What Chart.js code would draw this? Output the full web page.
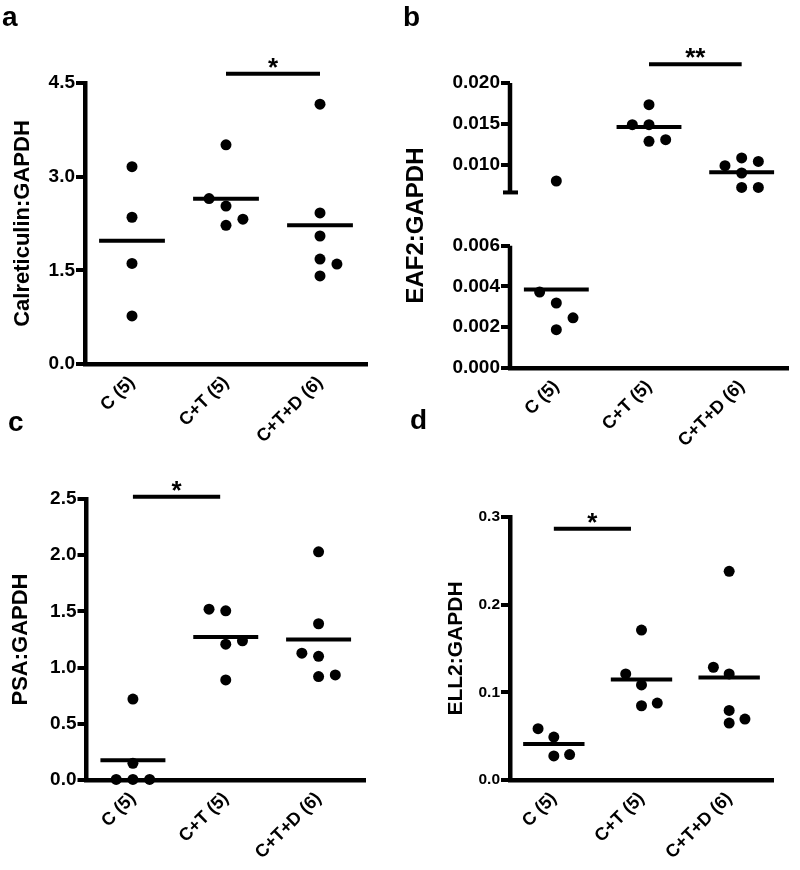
<!DOCTYPE html>
<html>
<head>
<meta charset="utf-8">
<script src="https://cdn.jsdelivr.net/npm/chart.js@4/dist/chart.umd.min.js"></script>
<style>
  body { margin: 0; background: #fff; }
  #fig { position: relative; width: 800px; height: 870px; overflow: hidden; background: #fff; }
  canvas { position: absolute; }
  .tag { position: absolute; font: bold 28px "Liberation Sans", Arial, sans-serif; line-height: 28px; color: #000; z-index: 2; }
</style>
</head>
<body>
<div id="fig">
  <canvas id="chartA" width="400" height="470" style="left:0;top:0"></canvas>
  <canvas id="chartB" width="400" height="470" style="left:400px;top:0"></canvas>
  <canvas id="chartC" width="400" height="435" style="left:0;top:435px"></canvas>
  <canvas id="chartD" width="400" height="435" style="left:400px;top:435px"></canvas>
  <div class="tag" style="left:2px;top:3px">a</div>
  <div class="tag" style="left:403px;top:3px">b</div>
  <div class="tag" style="left:8px;top:408px">c</div>
  <div class="tag" style="left:410px;top:406px">d</div>
</div>
<script>
// groups on the x axis
const groups = ['C (5)', 'C+T (5)', 'C+T+D (6)'];

// a - Calreticulin:GAPDH
const calreticulinC = [3.16, 2.35, 1.61, 0.77];
const calreticulinCT = [3.51, 2.65, 2.53, 2.32, 2.22];
const calreticulinCTD = [4.16, 2.42, 2.05, 1.68, 1.60, 1.41];
const calreticulinTicks = [0, 1.5, 3.0, 4.5];
const calreticulinSig = [1, 2, 4.65, '*'];

// b - EAF2:GAPDH (broken axis)
const eaf2C = [0.0080, 0.00373, 0.00319, 0.00246, 0.00188];
const eaf2CT = [0.01735, 0.0149, 0.0149, 0.01306, 0.01286];
const eaf2CTD = [0.01082, 0.0104, 0.00988, 0.00898, 0.00722, 0.00722];
const eaf2Ticks = [0, 0.002, 0.004, 0.006, 0.010, 0.015, 0.020];
const eaf2Break = [0.006, 0.0066];
const eaf2Sig = [1, 2, 0.0223, '**'];

// c - PSA:GAPDH
const psaC = [0.72, 0.149, 0.005, 0.005, 0.005];
const psaCT = [1.52, 1.505, 1.238, 1.208, 0.89];
const psaCTD = [2.03, 1.39, 1.128, 1.10, 0.935, 0.92];
const psaTicks = [0, 0.5, 1.0, 1.5, 2.0, 2.5];
const psaSig = [0, 0.94, 2.52, '*'];

// d - ELL2:GAPDH
const ell2C = [0.0585, 0.049, 0.029, 0.0275];
const ell2CT = [0.171, 0.121, 0.1085, 0.0877, 0.0847];
const ell2CTD = [0.238, 0.1286, 0.121, 0.0793, 0.0695, 0.065];
const ell2Ticks = [0, 0.1, 0.2, 0.3];
const ell2Sig = [0, 0.88, 0.2866, '*'];

const FONT = '"Liberation Sans", Arial, sans-serif';

// y scale with a gap between two value ranges
class BrokenScale extends Chart.LinearScale {
    static id = 'broken';
    static defaults = {};
    getPixelForValue(value) {
        if (value === null) return NaN;
        const [lo, hi] = this.options.split;
        const [fLo, fHi] = this.options.splitAt;
        let dec;
        if (value <= lo) dec = (value - this.min) / (lo - this.min) * fLo;
        else dec = fHi + (value - hi) / (this.max - hi) * (1 - fHi);
        return this.getPixelForDecimal(dec);
    }
}
Chart.register(BrokenScale);

// spread overlapping dots sideways, like a dot plot
const swarm = {
    id: 'swarm',
    afterDatasetsUpdate(chart) {
        const xs = chart.scales.x;
        const step = (xs.getPixelForValue(1) - xs.getPixelForValue(0)) * 0.18;
        chart.data.datasets.forEach((ds, i) => {
            if (!ds.swarm) return;
            const pts = chart.getDatasetMeta(i).data.slice().sort((p, q) => q.y - p.y);
            const placed = [];
            let side = 1;
            pts.forEach(p => {
                const free = s => placed.every(o => o.s !== s || Math.abs(o.y - p.y) >= 12.5);
                let s = 0;
                if (!free(0)) {
                    if (free(side)) s = side;
                    else if (free(-side)) s = -side;
                    else s = 2 * side;
                    side = -side;
                }
                placed.push({ s, y: p.y });
                p.x += s * step;
            });
        });
    }
};

// asterisks over the significance bars
const stars = {
    id: 'stars',
    afterDatasetsDraw(chart) {
        const ctx = chart.ctx;
        chart.data.datasets.forEach((ds, i) => {
            if (!ds.mark) return;
            const [p0, p1] = chart.getDatasetMeta(i).data;
            ctx.save();
            ctx.fillStyle = '#000';
            ctx.font = 'bold 26px ' + FONT;
            ctx.textAlign = 'center';
            ctx.textBaseline = 'alphabetic';
            ctx.fillText(ds.mark, (p0.x + p1.x) / 2, p0.y + 2);
            ctx.restore();
        });
    }
};

// axis line in two pieces for the broken scale
const brokenAxis = {
    id: 'brokenAxis',
    beforeDatasetsDraw(chart) {
        const y = chart.scales.y;
        const x0 = chart.chartArea.left;
        const ctx = chart.ctx;
        const [lo, hi] = y.options.split;
        ctx.save();
        ctx.strokeStyle = '#000';
        ctx.lineWidth = 4.5;
        ctx.beginPath();
        ctx.moveTo(x0, y.getPixelForValue(y.min) + 2);
        ctx.lineTo(x0, y.getPixelForValue(lo));
        ctx.moveTo(x0, y.getPixelForValue(hi));
        ctx.lineTo(x0, y.getPixelForValue(y.max));
        ctx.stroke();
        ctx.lineWidth = 4;
        ctx.beginPath();
        ctx.moveTo(x0 - 7, y.getPixelForValue(hi));
        ctx.lineTo(x0 + 8, y.getPixelForValue(hi));
        ctx.stroke();
        ctx.restore();
    }
};

function makePanel(id, p) {
    const datasets = [];
    p.series.forEach((vals, gi) => {
        datasets.push({
            type: 'scatter', swarm: true, clip: false,
            data: vals.map(v => ({ x: gi, y: v })),
            pointRadius: 5.5, pointBorderWidth: 0, pointBackgroundColor: '#000'
        });
        const mean = vals.reduce((s, v) => s + v, 0) / vals.length;
        datasets.push({
            type: 'line', clip: false,
            data: [{ x: gi - 0.35, y: mean }, { x: gi + 0.35, y: mean }],
            borderColor: '#000', borderWidth: 4, pointRadius: 0
        });
    });
    const [from, to, level, mark] = p.sig;
    datasets.push({
        type: 'line', clip: false, mark: mark,
        data: [{ x: from, y: level }, { x: to, y: level }],
        borderColor: '#000', borderWidth: 4, pointRadius: 0
    });

    const yScale = {
        type: p.broken ? 'broken' : 'linear',
        min: p.ticks[0],
        max: p.ticks[p.ticks.length - 1],
        afterBuildTicks: s => { s.ticks = p.ticks.map(v => ({ value: v })); },
        ticks: {
            callback: v => v.toFixed(p.digits),
            color: '#000', padding: 1, autoSkip: false,
            font: { family: FONT, size: p.tickSize, weight: 'bold' }
        },
        grid: { display: true, drawOnChartArea: false, drawTicks: true, tickLength: 9, lineWidth: 4, color: '#000' },
        border: { display: !p.broken, color: '#000', width: 4.5 },
        title: {
            display: true, text: p.title, color: '#000',
            font: { family: FONT, size: p.titleSize, weight: 'bold' },
            padding: { top: p.titlePad, bottom: 0 }
        },
        afterFit: s => { s.width = p.yWidth; }
    };
    if (p.broken) {
        yScale.split = eaf2Break;
        yScale.splitAt = [0.429, 0.616];
    }

    return new Chart(document.getElementById(id), {
        type: 'scatter',
        data: { datasets: datasets },
        plugins: p.broken ? [swarm, stars, brokenAxis] : [swarm, stars],
        options: {
            responsive: false,
            animation: false,
            events: [],
            layout: { padding: p.pad },
            plugins: { legend: { display: false }, tooltip: { enabled: false } },
            scales: {
                x: {
                    type: 'linear', min: -0.5, max: 2.5,
                    afterBuildTicks: s => { s.ticks = groups.map((g, i) => ({ value: i })); },
                    ticks: {
                        callback: v => groups[v],
                        minRotation: 45, maxRotation: 45, autoSkip: false, padding: 8,
                        color: '#000', font: { family: FONT, size: 18, weight: 'bold' }
                    },
                    grid: { display: false, drawTicks: false },
                    border: { display: true, color: '#000', width: 4.5 },
                    afterFit: s => { s.height = p.xHeight; }
                },
                y: yScale
            }
        }
    });
}

makePanel('chartA', {
    series: [calreticulinC, calreticulinCT, calreticulinCTD],
    ticks: calreticulinTicks, digits: 1, sig: calreticulinSig,
    title: 'Calreticulin:GAPDH', titleSize: 22, titlePad: 10, tickSize: 19,
    yWidth: 85, xHeight: 106, pad: { left: 0, top: 83, right: 33, bottom: 0 }
});

makePanel('chartB', {
    series: [eaf2C, eaf2CT, eaf2CTD], broken: true,
    ticks: eaf2Ticks, digits: 3, sig: eaf2Sig,
    title: 'EAF2:GAPDH', titleSize: 24, titlePad: 2, tickSize: 19,
    yWidth: 110, xHeight: 102, pad: { left: 0, top: 83, right: 12, bottom: 0 }
});

makePanel('chartC', {
    series: [psaC, psaCT, psaCTD],
    ticks: psaTicks, digits: 1, sig: psaSig,
    title: 'PSA:GAPDH', titleSize: 22, titlePad: 8, tickSize: 19,
    yWidth: 86.5, xHeight: 90, pad: { left: 0, top: 64, right: 35, bottom: 0 }
});

makePanel('chartD', {
    series: [ell2C, ell2CT, ell2CTD],
    ticks: ell2Ticks, digits: 1, sig: ell2Sig,
    title: 'ELL2:GAPDH', titleSize: 21, titlePad: 44, tickSize: 15.5,
    yWidth: 110, xHeight: 90, pad: { left: 0, top: 82, right: 27, bottom: 0 }
});
</script>
</body>
</html>
